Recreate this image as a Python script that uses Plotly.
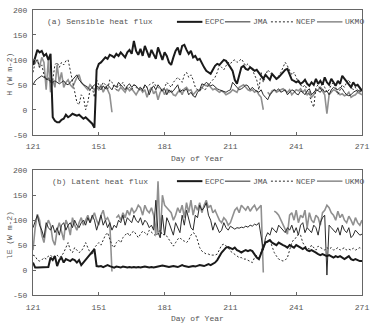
import plotly.graph_objects as go

days = list(range(121, 272))
x_ticks = [121, 151, 181, 211, 241, 271]
y_ticks = [-50, 0, 50, 100, 150, 200]
y_ticktext = ["-50", "0", "50", "100", "150", "200"]
series_names = ["ECPC", "JMA", "NCEP", "UKMO"]

ecpc_h = [90, 105, 120, 115, 118, 108, 112, 100, 112, -15,
          -22, -25, -25, -20, -18, -10, -15, -12, -8, -10,
          -12, -10, -14, -18, -15, -20, -25, -28, -36, 80,
          92, 95, 100, 105, 102, 110, 108, 105, 112, 108,
          115, 110, 105, 115, 120, 112, 138, 118, 110, 122,
          108, 128, 115, 105, 120, 112, 102, 125, 110, 100,
          115, 108, 95, 90, 105, 118, 125, 110, 128, 130,
          120, 112, 118, 105, 108, 100, 102, 92, 85, 78,
          75, 72, 80, 88, 92, 90, 95, 100, 98, 90,
          85, 78, 60, 52, 70, 85, 88, 82, 80, 85,
          82, 78, 80, 75, 68, 62, 70, 65, 60, 72,
          68, 62, 65, 70, 75, 80, 82, 70, 60, 58,
          55, 58, 52, 55, 60, 52, 48, 55, 50, 62,
          52, 58, 50, 65, 55, 50, 62, 55, 48, 58,
          52, 68, 62, 55, 50, 45, 55, 48, 50, 45,
          38]
jma_h = [50, 58, 62, 66, 68, 65, 62, 60, 58, 55,
         58, 55, 52, 55, 58, 52, 50, 55, 60, 65,
         70, 60, 55, 50, 48, 45, 40, 45, 50, 48,
         45, 40, 48, 42, 50, 45, 40, 50, 45, 55,
         50, 45, 40, 48, 52, 45, 50, 48, 42, 45,
         40, 50, 45, 30, 42, 48, 40, 50, 45, 38,
         42, 30, 40, 35, 38, 45, 50, 35, 40, 38,
         42, 30, 35, 28, 25, 35, 40, 52, 50, 55,
         52, 48, 50, 45, 42, 40, 38, 36, 35, 38,
         40, 55, 50, 45, 40, 42, 45, 50, 48, 40,
         45, 40, 38, 35, 40, 30, 25, 20, 30, 35,
         40, 38, 42, 35, 38, 40, 30, 35, 40, 38,
         32, 30, 38, 35, 30, 38, 42, 30, 35, 40,
         38, 35, 42, 35, 38, 30, 40, 45, 42, 40,
         45, 42, 35, 30, 28, 30, 35, 38, 40, 35,
         42]
ncep_h = [75, 95, 100, 85, 90, 70, 60, 65, 55, 60,
          90, 95, 85, 95, 90, 98, 100, 80, 55, 35,
          15, 10, 30, 25, 0, 15, 40, 45, 25, 60,
          50, 45, 55, 50, 40, 60, 55, 45, 40, 50,
          48, 55, 45, 42, 45, 40, 50, 45, 40, 42,
          38, 48, 45, 50, 52, 55, 48, 45, 40, 38,
          45, 55, 50, 45, 55, 60, 65, 60, 55, 70,
          75, 65, 70, 60, 45, 40, 38, 45, 40, 42,
          50, 55, 60, 65, 75, 90, 85, 80, 88, 95,
          92, 98, 100, 95, 98, 102, 95, 88, 92, 85,
          80, 70, 60, 40, 75, 55, 70, 80, 75, 70,
          65, 60, 68, 75, 85, 95, 88, 80, 70, 75,
          65, 55, 50, 45, 50, 40, 30, 15, 5, 45,
          50, 40, 55, 45, 35, 40, 50, 55, 45, 30,
          40, 50, 45, 55, 60, 50, 40, 45, 35, 40,
          35]
ukmo_h = [90, 95, 100, 85, 105, 95, 40, 100, 35, 60,
          45, 90, 55, 75, 45, 55, 60, 50, 45, 55,
          65, 70, 55, 50, 45, 40, 50, 45, 40, 45,
          40, 50, 35, 45, 40, 30, -5, None, 40, 38,
          45, 40, 35, 45, 38, 42, 35, 30, 38, 42,
          35, 40, 25, 38, 45, 32, 38, 20, 35, 40,
          30, 42, 35, 38, 30, 28, 35, 40, 30, 42,
          45, 38, 40, 30, 35, 40, 38, 45, 50, 48,
          50, 45, 40, 42, 38, 35, 38, 35, 30, 32,
          35, 40, 38, 35, 45, 48, 50, 45, 40, 38,
          40, 35, 38, 30, 25, 0, None, 35, 30, 38,
          40, 35, 38, 40, 42, 38, 35, 40, 30, 35,
          40, 38, 42, 35, 40, 30, 35, 25, 30, 38,
          40, 45, 38, 30, -8, 30, 35, 40, 38, 35,
          30, 32, 28, 30, 35, 25, 28, 30, 35, 32,
          30]

ecpc_le = [15, 5, 5, 5, 5, 5, 5, 6, 25, 20,
           28, 8, 20, 25, 15, 22, 20, 18, 22, 20,
           15, 20, 10, 15, 20, 25, 30, 35, 42, 8,
           7, 8, 6, 8, 10, 8, 7, 5, 7, 6,
           5, 7, 6, 5, 6, 5, 6, 5, 6, 5,
           6, 7, 6, 5, 6, 5, 6, 7, 8, 9,
           8, 7, 6, 7, 8, 7, 6, 8, 10, 8,
           7, 6, 7, 8, 7, 8, 10, 9, 8, 10,
           12, 10, 12, 15, 20, 28, 35, 40, 45, 46,
           44, 42, 45, 40, 38, 35, 38, 40, 38, 40,
           38, 30, 25, 22, 35, 45, 55, 58, 60, 55,
           52, 50, 55, 52, 50, 48, 45, 50, 48, 45,
           50, 48, 45, 42, 45, 40, 38, 40, 38, 35,
           32, 30, 32, 30, 28, 30, 28, 25, 28, 26,
           28, 25, 22, 25, 28, 22, 20, 22, 20, 18,
           18]
jma_le = [85, 100, 110, 90, 80, 65, 95, 85, 80, 90,
          75, 85, 70, 90, 95, 80, 90, 95, 85, 100,
          90, 85, 95, 100, 90, 105, 95, 110, 100, 80,
          95, 110, 90, 100, 85, 95, 80, 90, 85, 100,
          95, 110, 90, 105, 100, 95, 110, 100, 95, 105,
          90, 100, 95, 85, 90, 80, 140, 75, 65, 110,
          70, 105, 95, 80, 70, 95, 85, 75, 110, 90,
          120, 100, 85, 80, 110, 105, 130, 120, 125, 135,
          110, 100, 80, 95, 85, 75, 80, 95, 85, 80,
          88, 85, 82, 85, 84, 86, 85, 88, 86, 90,
          88, 92, 90, 95, 70, 40, 65, 75, 70, 85,
          80, 75, 90, 85, 80, 75, 85, 80, 90, 75,
          85, 70, 90, 95, 75, 85, 80, 75, 90, 85,
          70, 95, 105, 110, -10, 90, 85, 80, 75, 85,
          70, 90, 80, 75, 85, 65, 70, 80, 75, 70,
          72]
ncep_le = [30, 28, 20, 18, 20, 25, 22, 28, 30, 25,
           28, 30, 25, 28, 35, 45, 55, 40, 35, 45,
           40, 35, 38, 45, 55, 45, 35, 30, 45, 50,
           55, 50, 60, 70, 75, 60, 50, 45, 55, 60,
           55, 65, 70, 75, 68, 75, 78, 70, 65, 72,
           78, 75, 70, 80, 75, 72, 68, 75, 80, 70,
           72, 68, 62, 55, 48, 55, 62, 65, 60, 58,
           55, 60, 70, 75, 72, 60, 45, 38, 35, 32,
           32, 30, 30, 30, 32, 40, 50, 52, 48, 45,
           38, 35, 32, 28, 25, 25, 22, 22, 20, 18,
           15, 25, 30, 22, 35, 50, 58, 55, 60, 45,
           35, 28, 22, 20, 18, 20, 25, 40, 55, 62,
           65, 72, 70, 55, 48, 45, 42, 50, 45, 40,
           48, 45, 42, 40, 45, 42, 45, 40, 42, 45,
           40, 42, 45, 40, 42, 40, 44, 40, 42, 45,
           42]
ukmo_le = [40, 85, 112, 100, 70, 55, 85, 100, 90, 60,
           50, 80, 95, 75, 60, 100, 90, 70, 105, 90,
           80, 95, 105, 90, 100, 110, 95, 105, 115, 100,
           90, 110, 120, 100, 105, 95, -3, None, 105, 110,
           100, 115, 105, 120, 110, 125, 115, 120, 130, 125,
           110, 130, 120, 115, 125, 110, 70, 178, 65, 150,
           130, 125, 120, 115, 100, 110, 125, 115, 130, 105,
           135, 115, 140, 110, 130, 120, 135, 115, 130, 140,
           125, 130, 115, 120, 110, 100, 95, 105, 100, 90,
           95, 110, 120, 125, 115, 130, 125, 120, 128, 118,
           125, 130, 120, 125, 130, -5, None, None, None, None,
           118, 115, 110, 100, 90, 80, 72, 110, 115, 100,
           120, 95, 110, 105, 120, 85, 115, 100, 95, 110,
           105, 90, 115, 120, 130, 125, 115, 110, 100, 118,
           105, 112, 100, 95, 108, 100, 90, 105, 95, 90,
           100]

FONT = "Liberation Mono"
TXT = "#555555"
AX = "#666666"

styles = {
    "ECPC": dict(color="#1a1a1a", width=2.0, dash="solid"),
    "JMA": dict(color="#2a2a2a", width=1.0, dash="solid"),
    "NCEP": dict(color="#2a2a2a", width=1.0, dash="2px,2px"),
    "UKMO": dict(color="#909090", width=1.6, dash="solid"),
}

fig = go.Figure()
panels = [
    ({"ECPC": ecpc_h, "JMA": jma_h, "NCEP": ncep_h, "UKMO": ukmo_h}, "x", "y"),
    ({"ECPC": ecpc_le, "JMA": jma_le, "NCEP": ncep_le, "UKMO": ukmo_le}, "x2", "y2"),
]
for data, xa, ya in panels:
    for name in ["UKMO", "NCEP", "JMA", "ECPC"]:
        fig.add_trace(go.Scatter(x=days, y=data[name], mode="lines", name=name,
                                 line=styles[name], connectgaps=False,
                                 xaxis=xa, yaxis=ya, showlegend=False))

xa_common = dict(range=[121, 271], tickvals=x_ticks, ticks="inside", ticklen=3,
                 tickcolor=AX, showline=True, mirror=True, linecolor=AX, linewidth=1,
                 showgrid=False, zeroline=False, ticklabelstandoff=4,
                 ticklabeloverflow="allow",
                 tickfont=dict(family=FONT, size=8, color=TXT))
ya_common = dict(range=[-50, 200], tickvals=y_ticks, ticktext=y_ticktext,
                 ticks="inside", ticklen=3, tickcolor=AX, showline=True, mirror=True,
                 linecolor=AX, linewidth=1, showgrid=False, zeroline=False,
                 ticklabelstandoff=3,
                 tickfont=dict(family=FONT, size=8, color=TXT))

fig.update_layout(
    width=375, height=326, margin=dict(l=33, r=6, t=7, b=31),
    paper_bgcolor="white", plot_bgcolor="white",
    xaxis=dict(domain=[0, 1], anchor="y", **xa_common),
    yaxis=dict(domain=[0.5625, 1], anchor="x", **ya_common),
    xaxis2=dict(domain=[0, 1], anchor="y2", **xa_common),
    yaxis2=dict(domain=[0, 0.4375], anchor="x2", **ya_common),
)

ann = []
shapes = []
# legend positions in axis-domain fractions
leg = [("ECPC", 0.4375, 0.5149, 0.5179),
       ("JMA", 0.5833, 0.6607, 0.6637),
       ("NCEP", 0.7232, 0.7917, 0.7946),
       ("UKMO", 0.8631, 0.9405, 0.9435)]
for xr, yr, ly, title, tx, ytitle, yt in [
        ("x domain", "y domain", 0.905, "(a) Sensible heat flux", 0.036, "H (W m-2)", 0.484),
        ("x2 domain", "y2 domain", 0.913, "(b) Latent heat flux", 0.051, "lE (W m-2)", 0.476)]:
    for name, x0, x1, xt in leg:
        st = styles[name]
        shapes.append(dict(type="line", xref=xr, yref=yr, x0=x0, x1=x1, y0=ly, y1=ly,
                           line=dict(color=st["color"], width=st["width"], dash=st["dash"])))
        ann.append(dict(xref=xr, yref=yr, x=xt, y=ly, text=name, showarrow=False,
                        xanchor="left", yanchor="middle",
                        font=dict(family=FONT, size=8, color=TXT)))
    ann.append(dict(xref=xr, yref=yr, x=tx, y=ly, text=title, showarrow=False,
                    xanchor="left", yanchor="middle",
                    font=dict(family=FONT, size=8, color=TXT)))
    ann.append(dict(xref=xr, yref=yr, x=0.5, y=-0.19, text="Day of Year", showarrow=False,
                    xanchor="center", yanchor="middle",
                    font=dict(family=FONT, size=8, color=TXT)))
    ann.append(dict(xref=xr, yref=yr, x=-0.0714, y=yt, text=ytitle, showarrow=False,
                    textangle=-90, xanchor="center", yanchor="middle",
                    font=dict(family=FONT, size=8, color=TXT)))

fig.update_layout(annotations=ann, shapes=shapes)
fig.write_html("out.html")
